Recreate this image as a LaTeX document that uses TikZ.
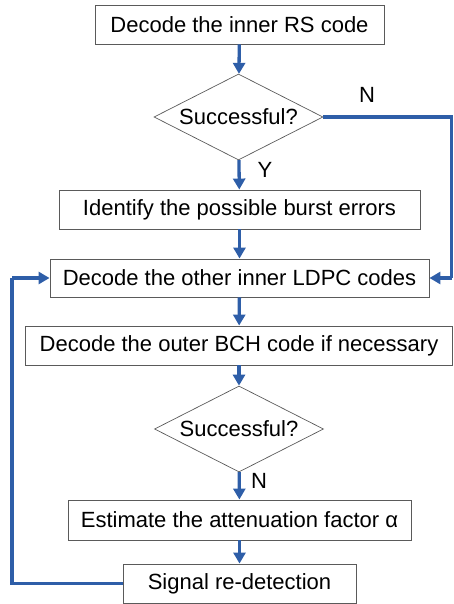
\documentclass[tikz,border=0pt]{standalone}
\usepackage{fontspec}
\setmainfont{Liberation Sans}
\usetikzlibrary{shapes.geometric,arrows.meta}
\definecolor{flowblue}{RGB}{46,94,168}
\definecolor{boxgray}{RGB}{90,90,90}
\tikzset{
  procbox/.style={draw=boxgray,line width=0.9pt,fill=white,rectangle,inner sep=0pt,font=\fontsize{22}{24}\selectfont},
  decision/.style={draw=boxgray,line width=0.7pt,diamond,aspect=1.97,inner sep=0pt,minimum width=169pt,minimum height=86pt,font=\fontsize{22}{24}\selectfont},
  flow/.style={draw=flowblue,line width=3.3pt,-{Triangle[length=11pt,width=12pt]}},
  flowline/.style={draw=flowblue,line width=3.3pt},
  lbl/.style={font=\fontsize{22}{24}\selectfont,inner sep=0pt}
}
\begin{document}
\begin{tikzpicture}[x=1pt,y=-1pt]
\useasboundingbox (0,0) rectangle (453,604);
\node[procbox,minimum width=289pt,minimum height=39pt] (b1) at (239.5,24.5) {Decode the inner RS code};
\node[decision] (d1) at (238.5,117) {Successful?};
\node[procbox,minimum width=361pt,minimum height=39pt] (b2) at (239.5,209.5) {Identify the possible burst errors};
\node[procbox,minimum width=379pt,minimum height=38pt] (b3) at (239.5,278) {Decode the other inner LDPC codes};
\node[procbox,minimum width=427pt,minimum height=39pt] (b4) at (239,345.5) {Decode the outer BCH code if necessary};
\node[decision] (d2) at (239,429) {Successful?};
\node[procbox,minimum width=343pt,minimum height=40pt] (b5) at (239.5,520) {Estimate the attenuation factor α};
\node[procbox,minimum width=233pt,minimum height=39pt] (b6) at (239.5,583.5) {Signal re-detection};
\coordinate (rtop) at (451.5,117);
\coordinate (rbot) at (451.5,278);
\coordinate (lbot) at (12,583.5);
\coordinate (ltop) at (12,278);
\draw[flow] (b1) -- (d1);
\draw[flow] (d1) -- (b2);
\draw[flow] (b2) -- (b3);
\draw[flow] (b3) -- (b4);
\draw[flow] (b4) -- (d2);
\draw[flow] (d2) -- (b5);
\draw[flow] (b5) -- (b6);
\draw[flowline] (d1.east) -- (rtop) -- (rbot);
\draw[flow] (rbot) -- (b3.east);
\draw[flowline] (b6.west) -- (lbot) -- (ltop);
\draw[flow] (ltop) -- (b3.west);
\node[lbl] (n1) at (367,95) {N};
\node[lbl] (y1) at (265,170) {Y};
\node[lbl] (n2) at (259,481) {N};
\end{tikzpicture}
\end{document}
